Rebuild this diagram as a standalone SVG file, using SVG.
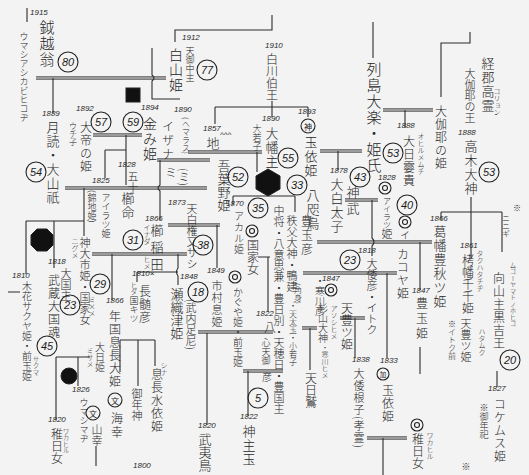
<svg xmlns="http://www.w3.org/2000/svg" width="529" height="475" viewBox="0 0 529 475">
<style>
.v{font-family:"Noto Sans CJK JP","Noto Sans CJK SC",sans-serif;font-weight:300;fill:#262626;writing-mode:vertical-rl}
.yr{font-family:"Liberation Sans",sans-serif;font-style:italic;font-size:8px;fill:#2a2a2a}
.num{font-family:"Liberation Sans",sans-serif;font-style:italic;font-size:11px;fill:#1c1c1c;text-anchor:middle;dominant-baseline:central}
.cj{font-family:"Noto Sans CJK JP",sans-serif;font-size:8px;fill:#1c1c1c;text-anchor:middle;dominant-baseline:central}
.c{fill:none;stroke:#222;stroke-width:1.1}
.blk{fill:#111;stroke:#222}
.ln{fill:none;stroke:#2c2c2c;stroke-width:1.1}
.f6{font-size:6.5px}.f7{font-size:7px}.f8{font-size:8px}.f9{font-size:9px}.f10{font-size:10px}.f11{font-size:11px}.f12{font-size:12px}.f13{font-size:13px}.f14{font-size:14px}.f15{font-size:15px}
.ls1{letter-spacing:1px}.ls2{letter-spacing:2px}.ls3{letter-spacing:3px}.ls4{letter-spacing:4px}
</style>
<defs>
<path id="dblp" d="M36,78H166 M93,135H142 M65,188H207 M92,254H187 M188,152H262 M157,160H210 M168,225H220 M198,332H273 M243,371H283 M302,328H317 M317,242H432 M303,273H397 M340,318H365 M345,200H378 M320,151H362 M383,110H433 M367,438H407"/>
</defs>
<rect width="529" height="475" fill="#f3f3f3"/>
<g id="connectors">
<use href="#dblp" stroke="#5a5a5a" stroke-width="3.4" fill="none"/>
<use href="#dblp" stroke="#dcdcdc" stroke-width="1.1" fill="none"/>
<path class="ln" d="M272,15V30H175V42 M272,101V117 M215,107H308 M215,107V124 M308,107V117 M27,8V22 M53,78V113 M152,48V75q4,3 0,6V99H180 M126,135V185 M105,150H126 M105,150V178 M160,160V185q-4,3 0,6V220 M84,188V236 M26,221H84 M26,221V274 M54,221V268 M112,254V300 M137,272H178 M137,272V282 M178,254V268q-3,4 0,8V285 M120,340H155 M120,340V372 M138,340V386 M155,340V366 M56,357H90 M56,357V420 M78,357V386 M96,446V466 M207,333V425 M248,371V416 M310,328V370 M372,200V238q4,4 0,8V256 M387,273V358 M355,318V358 M441,212H502 M471,197V258 M441,212V220 M502,212V252 M420,242V290 M420,347V374 M497,371V387 M383,438V475 M373,22V58 M405,110V128 M470,32V43H441V97 M233,196H295 M233,196V205 M295,196V212 M257,152V172 M258,257H270 M268,257V312 M338,151V170 M217,225V268 M8,292H20"/>
</g>
<g id="marks">
<rect class="blk" x="126" y="88" width="14" height="14"/>
<polygon class="blk" points="268,169 280,176 280,189 268,196 256,189 256,176"/>
<polygon class="blk" points="37,229 47,229 53,235 53,245 47,251 37,251 31,245 31,235"/>
<circle class="blk" cx="69" cy="376" r="8"/>
</g>
<g id="n-umashi"><text class="yr" x="30" y="15">1915</text><text class="v f9" x="24" y="32">ウマシアシカビヒコヂ</text></g>
<g id="n-kanae"><text class="v f15 ls1" x="47" y="20">鉞越翁</text><circle class="c" cx="68" cy="62" r="10"/><text class="num" x="68" y="62">80</text></g>
<g id="n-tsukuyomi"><text class="yr" x="42" y="116">1889</text><text class="v f13 ls1" x="53" y="121">月読・大山祇</text><circle class="c" cx="36" cy="172" r="10"/><text class="num" x="36" y="172">54</text></g>
<g id="n-taitei"><text class="yr" x="76" y="111">1892</text><text class="v f12 ls1" x="86" y="121">大帝の姫</text><text class="v f8" x="73" y="122">ウチ子</text><circle class="c" cx="101" cy="122" r="10"/><text class="num" x="101" y="122">57</text></g>
<g id="n-kanemi"><circle class="c" cx="133" cy="122" r="10"/><text class="num" x="133" y="122">59</text><text class="yr" x="141" y="110">1894</text><text class="v f14 ls1" x="150" y="117">金み姫</text></g>
<g id="n-izana"><text class="yr" x="174" y="112">1890</text><text class="v f12 ls2" x="168" y="120">イザナ</text><text class="v f8" x="186" y="117">(ヘマラス)</text><text class="v f12" x="171" y="166">ミ</text><text class="v f11" x="184" y="168">(ミ)</text></g>
<g id="n-amenominaka"><text class="yr" x="182" y="40">1912</text><text class="v f9" x="190" y="46">天御中主</text><circle class="c" cx="207" cy="70" r="10"/><text class="num" x="207" y="70">77</text></g>
<g id="n-hakusan"><text class="v f14 ls1" x="176" y="48">白山姫</text></g>
<g id="n-shirakawa"><text class="yr" x="265" y="48">1910</text><text class="v f12" x="272" y="53">白川伯王</text></g>
<g id="n-chi"><text class="yr" x="203" y="131">1857</text><text class="v f13" x="213" y="137">地</text><text class="yr" x="220" y="137">^^^</text></g>
<g id="n-ohata"><text class="yr" x="262" y="121">1890</text><text class="v f13 ls1" x="272" y="127">大幡主</text><text class="v f9" x="257" y="124">大若子</text><circle class="c" cx="288" cy="158" r="10"/><text class="num" x="288" y="158">55</text></g>
<g id="n-tamayori1"><text class="yr" x="298" y="114">1893</text><circle class="c" cx="308" cy="126" r="7"/><text class="cj" x="308" y="126">神</text><text class="v f13 ls1" x="311" y="136">玉依姫</text></g>
<g id="n-33"><circle class="c" cx="297" cy="185" r="10"/><text class="num" x="297" y="185">33</text></g>
<g id="n-ohiru"><text class="yr" x="330" y="173">1878</text><text class="v f13 ls1" x="337" y="178">大白太子</text></g>
<g id="n-jinmu"><circle class="c" cx="360" cy="177" r="10"/><text class="num" x="360" y="177">43</text><text class="v f13 ls3" x="353" y="186">神武</text></g>
<g id="n-retto"><text class="v f15 ls1" x="374" y="62">列島大楽・姫氏</text><circle class="c" cx="393" cy="153" r="10"/><text class="num" x="393" y="153">53</text></g>
<g id="n-ohirume"><text class="yr" x="397" y="128">1888</text><text class="v f12 ls1" x="409" y="135">大日孁貴</text><text class="v f7" x="421" y="133">オヒルメムチ</text></g>
<g id="n-airatsu1"><text class="yr" x="378" y="180">1828</text><circle class="c" cx="385" cy="188" r="6"/><circle class="c" cx="385" cy="188" r="2.5"/><text class="v f8" x="387" y="197">アイラツ</text><text class="v f11" x="387" y="228">姫</text></g>
<g id="n-40"><circle class="c" cx="407" cy="205" r="10"/><text class="num" x="407" y="205">40</text><circle class="c" cx="405" cy="222" r="6"/><circle class="c" cx="405" cy="222" r="2.5"/><text class="v f10" x="405" y="230">イ</text></g>
<g id="n-gaya-hime"><text class="v f12 ls1" x="441" y="105">大伽耶の姫</text></g>
<g id="n-gaya-king"><text class="v f13 ls1" x="488" y="57">経郡高霊</text><text class="v f7" x="497" y="88">コリョン</text><text class="v f11" x="470" y="68">大伽耶の王</text></g>
<g id="n-takagi"><text class="yr" x="458" y="135">1888</text><text class="v f13 ls1" x="471" y="140">高木大神</text><circle class="c" cx="489" cy="172" r="10"/><text class="num" x="489" y="172">53</text></g>
<g id="n-katsuhata"><text class="yr" x="430" y="221">1866</text><text class="v f13 ls1" x="440" y="225">葛幡豊秋ツ姫</text></g>
<g id="n-takuhata"><text class="yr" x="460" y="248">1861</text><text class="v f12" x="468" y="254">栲幡千千姫</text><text class="v f7" x="480" y="250">タクハタチヂ</text></g>
<g id="n-ninigi"><text class="v f8" x="517" y="204">※</text><text class="v f8" x="506" y="214">ニニギ</text></g>
<g id="n-mukou"><text class="v f6" x="513" y="262">ムコーヤマトノホヒコ</text><text class="v f12 ls1" x="499" y="272">向山主黒吉王</text><circle class="c" cx="510" cy="360" r="10"/><text class="num" x="510" y="360">20</text></g>
<g id="n-kokemusu"><text class="yr" x="488" y="391">1827</text><text class="v f12 ls1" x="500" y="398">コケムス姫</text><text class="v f9" x="484" y="403">※御年祀</text></g>
<g id="n-isoshi"><text class="yr" x="92" y="183">1825</text><text class="yr" x="118" y="167">1828</text><text class="v f11" x="133" y="171">五十</text></g>
<g id="n-nishiki"><text class="v f9" x="92" y="190">(錦地姫)</text><text class="v f9" x="106" y="193">アイラツ姫</text></g>
<g id="n-kushi"><text class="v f13 ls1" x="128" y="192">櫛命</text><circle class="c" cx="133" cy="240" r="10"/><text class="num" x="133" y="240">31</text></g>
<g id="n-kushinada"><text class="yr" x="145" y="221">1866</text><text class="v f13 ls4" x="157" y="224">櫛稲田</text><text class="v f7" x="147" y="224">イナダ</text><text class="v f7" x="147" y="256">ヒメ</text></g>
<g id="n-kamuoichi"><text class="v f7" x="75" y="238">ニグメ</text><text class="v f11" x="85" y="237">神大市姫・国家女</text><text class="v f7" x="92" y="296">ミ×メ</text><circle class="c" cx="100" cy="284" r="10"/><text class="num" x="100" y="284">29</text></g>
<g id="n-okuninushi"><text class="yr" x="48" y="264">1818</text><text class="v f11" x="66" y="268">大国主</text><text class="v f12 ls1" x="54" y="274">武蔵大国魂</text><circle class="c" cx="70" cy="305" r="10"/><text class="num" x="70" y="305">23</text></g>
<g id="n-konohana"><text class="yr" x="12" y="278">1810</text><text class="v f10" x="27" y="281">木花サクヤ姫・前玉姫</text><text class="v f6" x="36" y="356">サクマ</text><circle class="c" cx="47" cy="346" r="10"/><text class="num" x="47" y="346">45</text></g>
<g id="n-toshikuni"><text class="yr" x="106" y="303">1866</text><text class="v f12 ls1" x="115" y="310">年国息長大姫</text></g>
<g id="n-nagasune"><text class="yr" x="132" y="276">1810×</text><text class="v f12 ls1" x="145" y="285">長髄彦</text><text class="v f6" x="134" y="282">ヒダ</text><text class="v f9" x="134" y="296">国キツ</text></g>
<g id="n-seoritsu"><text class="yr" x="180" y="279">1848</text><text class="v f13" x="177" y="288">瀬織津姫</text><text class="v f11" x="191" y="299">(武内足尼)</text><circle class="c" cx="198" cy="292" r="10"/><text class="num" x="198" y="292">18</text></g>
<g id="n-ichimura"><text class="yr" x="207" y="273">1849</text><text class="v f11 ls1" x="217" y="280">市村息姫</text></g>
<g id="n-kaguya"><circle class="c" cx="235" cy="277" r="6"/><circle class="c" cx="235" cy="277" r="2.5"/><text class="v f10" x="238" y="287">かぐや姫・前玉姫</text></g>
<g id="n-tenpaku"><text class="yr" x="168" y="205">1873</text><text class="v f11" x="192" y="203">天白権又サシ</text><circle class="c" cx="203" cy="245" r="10"/><text class="num" x="203" y="245">38</text></g>
<g id="n-agaha"><text class="v f13" x="224" y="160">吾葉野姫</text><circle class="c" cx="238" cy="177" r="10"/><text class="num" x="238" y="177">52</text></g>
<g id="n-akaru"><circle class="c" cx="258" cy="208" r="10"/><text class="num" x="258" y="208">35</text><text class="yr" x="226" y="206">1870</text><text class="v f10 ls1" x="239" y="211">アカル姫</text></g>
<g id="n-kokkajo"><circle class="c" cx="252" cy="231" r="6"/><circle class="c" cx="252" cy="231" r="2.5"/><text class="v f12" x="253" y="239">国家女</text></g>
<g id="n-chujo"><text class="v f11" x="279" y="205">中将・八意思兼・豊日別・天穂日・豊国主</text></g>
<g id="n-yatagarasu"><text class="v f13 ls1" x="313" y="189">八咫烏</text></g>
<g id="n-chichibu"><text class="v f11" x="292" y="215">秩父大神・鴨建</text><text class="v f8" x="298" y="283">(角身)</text><text class="v f8" x="293" y="302">・天太玉・小若子</text></g>
<g id="n-toyotamahiko"><text class="v f12 ls2" x="307" y="215">豊玉彦</text><text class="v f10" x="320" y="276">・寒川彦</text></g>
<g id="n-amenotoyo"><text class="yr" x="322" y="281">1847</text><circle class="c" cx="331" cy="290" r="6"/><circle class="c" cx="331" cy="290" r="2.5"/><text class="v f12" x="347" y="302">天豊ツ姫</text><text class="v f7" x="334" y="305">アソシヒメ</text><text class="v f10" x="323" y="303">杉山大神</text><text class="v f7" x="325" y="344">・寒川ヒメ</text></g>
<g id="n-yamatohiko"><circle class="c" cx="350" cy="260" r="10"/><text class="num" x="350" y="260">23</text><text class="yr" x="358" y="253">1818</text><text class="v f11" x="372" y="258">大倭彦・イトク</text></g>
<g id="n-kakoya"><text class="v f12 ls1" x="403" y="248">カコヤ姫</text></g>
<g id="n-toyotamahime"><text class="yr" x="412" y="293">1847</text><text class="v f12 ls3" x="422" y="297">豊玉姫</text></g>
<g id="n-ameyutsu"><text class="v f8" x="452" y="320">※イトク前</text><text class="v f11" x="466" y="318">天豊ツ姫</text><text class="v f7" x="482" y="328">ハタムク</text></g>
<g id="n-yamatoneko"><text class="yr" x="352" y="362">1838</text><text class="v f11 ls1" x="359" y="368">大倭根子(孝霊)</text></g>
<g id="n-tamayori2"><text class="yr" x="380" y="363">1833</text><circle class="c" cx="383" cy="374" r="6"/><text class="cj f6" x="383" y="374">加</text><text class="v f12 ls1" x="388" y="384">玉依姫</text></g>
<g id="n-wakahirume2"><circle class="c" cx="417" cy="425" r="6"/><circle class="c" cx="417" cy="425" r="2.5"/><text class="v f12" x="418" y="433">稚日女</text><text class="v f7" x="430" y="432">ワカヒル</text><text class="v f9" x="466" y="462">※</text></g>
<g id="n-umashimaji"><text class="yr" x="72" y="392">1826</text><text class="v f9" x="84" y="398">ウマシマヂ</text></g>
<g id="n-yamasachi"><circle class="c" cx="93" cy="413" r="7"/><text class="cj" x="93" y="413">文</text><text class="v f11" x="97" y="424">山幸</text></g>
<g id="n-umisachi"><circle class="c" cx="115" cy="400" r="7"/><text class="cj" x="115" y="400">文</text><text class="v f12 ls2" x="117" y="412">海幸</text></g>
<g id="n-ohihime"><text class="v f10" x="100" y="342">大日姫</text><text class="v f7" x="90" y="347">ミサメ</text></g>
<g id="n-wakahirume1"><text class="yr" x="48" y="422">1820</text><text class="v f12" x="57" y="428">稚日女</text><text class="v f6" x="66" y="428">ワカヒル</text></g>
<g id="n-okinaga"><text class="v f12 ls1" x="157" y="368">息長水依姫</text><text class="v f7" x="164" y="362">シナ</text></g>
<g id="n-mitoshi"><text class="v f11" x="137" y="388">御年神</text><text class="yr" x="133" y="468">1800</text></g>
<g id="n-ya"><text class="yr" x="256" y="316">1822</text><text class="v f12" x="270" y="321">八</text><text class="v f9" x="266" y="338">心天御</text><text class="v f10" x="267" y="372">彦</text><circle class="c" cx="258" cy="398" r="10"/><text class="num" x="258" y="398">5</text></g>
<g id="n-kamushu"><text class="yr" x="240" y="419">1822</text><text class="v f13 ls1" x="249" y="425">神主玉</text></g>
<g id="n-takehi"><text class="yr" x="198" y="428">1820</text><text class="v f13" x="205" y="433">武夷鳥</text></g>
<g id="n-amenohiwashi"><text class="v f12" x="311" y="372">天日鷲</text></g>
</svg>
